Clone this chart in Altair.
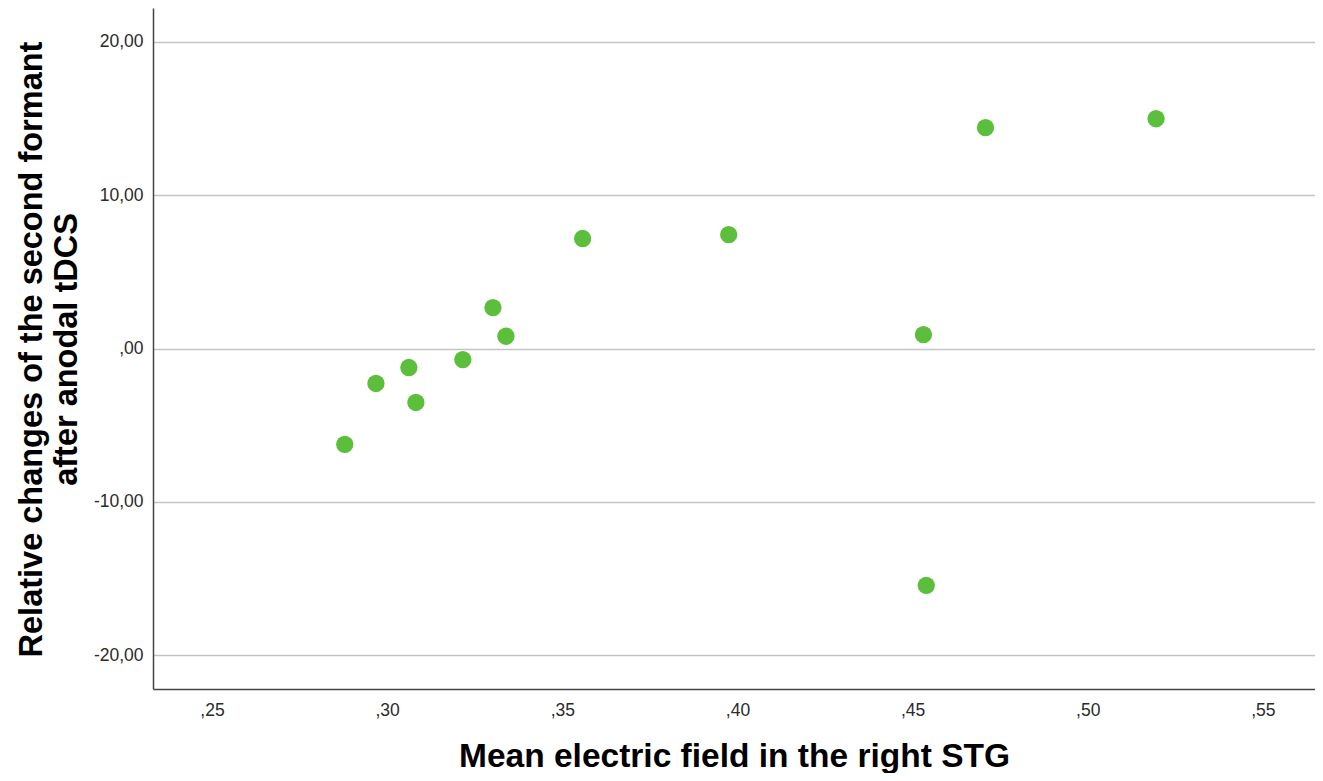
import altair as alt
import pandas as pd

# Data
electric_field = [0.2879, 0.2968, 0.3062, 0.3082, 0.3216, 0.3302, 0.3339,
                  0.3558, 0.3975, 0.4531, 0.4539, 0.4708, 0.5195]
formant_change = [-6.25, -2.28, -1.24, -3.52, -0.72, 2.67, 0.80,
                  7.17, 7.43, 0.91, -15.44, 14.40, 14.98]
x_ticks = [0.25, 0.30, 0.35, 0.40, 0.45, 0.50, 0.55]
y_ticks = [-20, -10, 0, 10, 20]

df = pd.DataFrame({"field": electric_field, "change": formant_change})

FONT = "Liberation Sans"

chart = (
    alt.Chart(df)
    .mark_circle(size=300, color="#5cbf3b", opacity=1)
    .encode(
        x=alt.X(
            "field:Q",
            scale=alt.Scale(domain=[0.23316, 0.56487], nice=False, zero=False),
            axis=alt.Axis(
                values=x_ticks,
                labelExpr="replace(format(datum.value, '.2f'), '0.', ',')",
                grid=False,
                ticks=False,
                labelPadding=12,
                labelFontSize=17.5,
                labelFont=FONT,
                labelColor="#2b2b2b",
                domainColor="#444444",
                domainWidth=1.5,
                title="Mean electric field in the right STG",
                titleFont=FONT,
                titleFontSize=33.5,
                titleFontWeight="bold",
                titleColor="#000000",
                titleBaseline="alphabetic",
                titleY=77,
            ),
        ),
        y=alt.Y(
            "change:Q",
            scale=alt.Scale(domain=[-22.2, 22.2], nice=False, zero=False),
            axis=alt.Axis(
                values=y_ticks,
                labelExpr="replace(datum.value == 0 ? ',00' : replace(format(datum.value, '.2f'), '.', ','), '\u2212', '-')",
                grid=True,
                gridColor="#c4c4c4",
                gridWidth=1.5,
                ticks=False,
                labelPadding=10,
                labelFontSize=17.5,
                labelFont=FONT,
                labelColor="#2b2b2b",
                domainColor="#444444",
                domainWidth=1.5,
                title=["Relative changes of the second formant", "after anodal tDCS"],
                titleFont=FONT,
                titleFontSize=32.5,
                titleFontWeight="bold",
                titleColor="#000000",
                titleLineHeight=35,
                titleAlign="center",
                titleBaseline="bottom",
                titleX=-105,
                titleY=341,
            ),
        ),
    )
    .properties(
        width=1162,
        height=681,
        autosize=alt.AutoSizeParams(type="none"),
        padding={"left": 145, "top": 0, "right": 0, "bottom": 84},
    )
    .configure_view(stroke=None)
)

chart.save("out.html", embed_options={"renderer": "svg", "actions": False})
